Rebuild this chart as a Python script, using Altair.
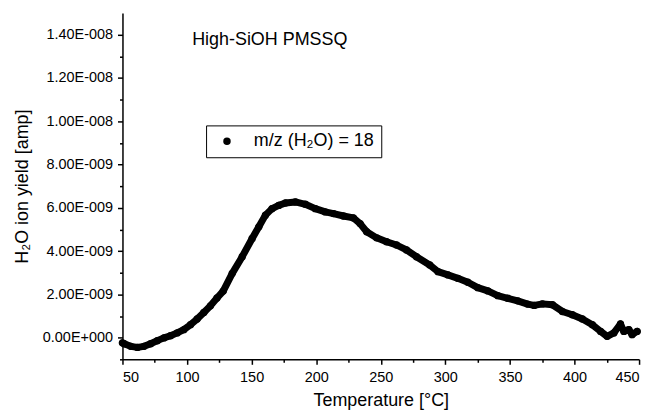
import altair as alt
import pandas as pd

# Temperature [°C] and H2O ion yield [1e-9 amp]
temperature = [50.0, 51.3, 56.4, 61.6, 66.7, 71.8, 77.0, 82.1, 87.2, 92.4, 97.5, 102.7,
               107.8, 113.0, 118.1, 123.2, 128.0, 135.0, 142.7, 150.4, 155.6, 160.7,
               165.8, 171.0, 176.2, 183.9, 191.6, 199.3, 207.0, 213.4, 221.1, 228.8,
               234.0, 239.1, 246.8, 254.5, 262.2, 269.9, 277.6, 287.9, 294.3, 302.0,
               309.7, 317.4, 325.1, 332.9, 340.6, 348.3, 356.0, 363.7, 368.8, 375.2,
               382.9, 390.6, 398.3, 406.1, 413.8, 420.2, 425.3, 430.5, 435.6, 438.2,
               442.1, 444.6, 448.5]
ion_yield_nA = [-0.24, -0.28, -0.40, -0.45, -0.40, -0.28, -0.14, -0.01, 0.09, 0.22, 0.37, 0.60,
                0.86, 1.16, 1.47, 1.83, 2.15, 2.97, 3.74, 4.58, 5.12, 5.66,
                5.96, 6.11, 6.22, 6.27, 6.16, 5.96, 5.81, 5.73, 5.62, 5.53,
                5.27, 4.89, 4.61, 4.43, 4.28, 4.05, 3.74, 3.36, 3.05, 2.90,
                2.74, 2.56, 2.31, 2.16, 1.94, 1.82, 1.70, 1.55, 1.49, 1.56,
                1.52, 1.21, 1.06, 0.86, 0.60, 0.29, 0.06, 0.22, 0.63, 0.29,
                0.37, 0.14, 0.29]
series_name = "m/z (H\u2082O) = 18"
sample_name = "High-SiOH PMSSQ"

x_major = [50, 100, 150, 200, 250, 300, 350, 400, 450]
x_minor = [75, 125, 175, 225, 275, 325, 375, 425]
y_major = [0, 2, 4, 6, 8, 10, 12, 14]
y_minor = [-1, 1, 3, 5, 7, 9, 11, 13]
y_labels = ["0.00E+000", "2.00E-009", "4.00E-009", "6.00E-009", "8.00E-009",
            "1.00E-008", "1.20E-008", "1.40E-008"]

df = pd.DataFrame({"T": temperature, "V": ion_yield_nA, "series": series_name})

FONT = "Liberation Sans"
label_expr = "[" + ",".join("'%s'" % s for s in y_labels) + "][round(datum.value/2)]"

xscale = alt.Scale(domain=[50, 450], nice=False, zero=False)
yscale = alt.Scale(domain=[-1, 15], nice=False, zero=False)

x_axis = alt.Axis(values=x_major, orient="bottom", grid=False, tickSize=5, tickWidth=1.5,
                  domainWidth=1.5, domainColor="black", tickColor="black",
                  labelFont=FONT, labelFontSize=14.5, labelColor="black", labelPadding=6,
                  title="Temperature [\u00b0C]", titleFont=FONT, titleFontSize=18,
                  titleFontWeight="normal", titleColor="black", titlePadding=8)
y_axis = alt.Axis(values=y_major, orient="left", grid=False, tickSize=5, tickWidth=1.5,
                  domainWidth=1.5, domainColor="black", tickColor="black",
                  labelFont=FONT, labelFontSize=14.5, labelColor="black", labelPadding=5,
                  labelExpr=label_expr,
                  title="H\u2082O ion yield [amp]", titleFont=FONT, titleFontSize=18,
                  titleFontWeight="normal", titleColor="black", titlePadding=11)
x_minor_axis = alt.Axis(values=x_minor, orient="bottom", grid=False, labels=False, domain=False,
                        tickSize=3, tickWidth=1.5, tickColor="black", title=None)
y_minor_axis = alt.Axis(values=y_minor, orient="left", grid=False, labels=False, domain=False,
                        tickSize=3, tickWidth=1.5, tickColor="black", title=None)

base = alt.Chart(df)

band = base.mark_line(color="black", strokeWidth=7, strokeCap="round", strokeJoin="round").encode(
    x=alt.X("T:Q", scale=xscale, axis=x_axis),
    y=alt.Y("V:Q", scale=yscale, axis=y_axis),
)

points = base.mark_circle(size=55, opacity=1).encode(
    x=alt.X("T:Q", scale=xscale, axis=None),
    y=alt.Y("V:Q", scale=yscale, axis=None),
    color=alt.Color("series:N", scale=alt.Scale(range=["black"]),
                    legend=alt.Legend(title=None, orient="none", legendX=84, legendY=113,
                                      strokeColor="black", fillColor="white", padding=7,
                                      symbolType="circle", symbolSize=36,
                                      symbolFillColor="black", symbolStrokeColor="black",
                                      symbolOffset=5, labelOffset=18,
                                      labelFont=FONT, labelFontSize=18, labelColor="black")),
)

minor = base.mark_point(opacity=0).encode(
    x=alt.X("T:Q", scale=xscale, axis=x_minor_axis),
    y=alt.Y("V:Q", scale=yscale, axis=y_minor_axis),
)

label = alt.Chart(pd.DataFrame({"name": [sample_name]})).mark_text(
    font=FONT, fontSize=18, color="black", align="left", baseline="alphabetic"
).encode(text="name:N", x=alt.value(70), y=alt.value(32))

chart = alt.layer(band, points, minor, label).resolve_axis(
    x="independent", y="independent"
).properties(
    width=519, height=348,
    autosize=alt.AutoSizeParams(type="none"),
    padding={"left": 115, "top": 4, "right": 15, "bottom": 55},
).configure_view(stroke=None)

chart.save("out.html", embed_options={"renderer": "svg", "actions": False})
